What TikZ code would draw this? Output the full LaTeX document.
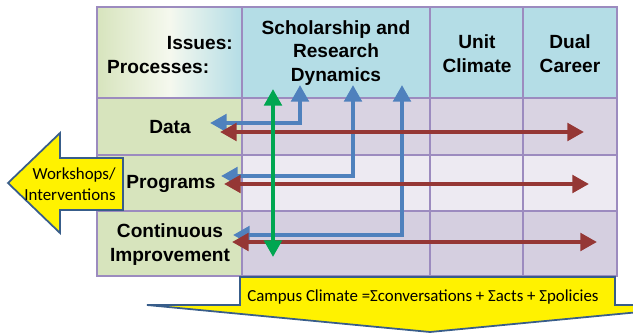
\documentclass[tikz,border=0pt]{standalone}
\usepackage{fontspec}
\setmainfont{Liberation Sans}
\newfontfamily\calibri{Carlito}
\usetikzlibrary{arrows.meta}
\definecolor{headblue}{HTML}{B4DDE6}
\definecolor{rowgreen}{HTML}{D7E4BD}
\definecolor{cellA}{HTML}{D9D3E2}
\definecolor{cellB}{HTML}{EDEAF2}
\definecolor{cellC}{HTML}{D5CFE0}
\definecolor{gridpurple}{HTML}{9C8BBF}
\definecolor{arrowred}{HTML}{953735}
\definecolor{arrowblue}{HTML}{4F81BD}
\definecolor{arrowgreen}{HTML}{00A651}
\definecolor{edgeblue}{HTML}{385D8A}

\begin{document}
\begin{tikzpicture}[x=0.03cm,y=-0.03cm,
  grid/.style={draw=gridpurple,line width=1.2pt},
  headtext/.style={font=\fontsize{16.3}{20.4}\selectfont\bfseries,align=center,inner sep=0pt},
  flow/.style={line width=3.6pt,{Triangle[length=0.5cm,width=0.52cm]}-{Triangle[length=0.5cm,width=0.52cm]}},
  bigarrow/.style={fill=yellow,draw=edgeblue,line width=1.5pt,line join=miter}]
  \clip (0,0) rectangle (633,335);

  % Tabelle: Zellen
  \shade[left color=rowgreen,right color=headblue,middle color=rowgreen!25!white] (97,7) rectangle (242,98);
  \fill[headblue] (242,7) rectangle (617,98);
  \fill[rowgreen] (97,98) rectangle (242,276);
  \fill[cellA] (242,98) rectangle (617,155);
  \fill[cellB] (242,155) rectangle (617,211);
  \fill[cellC] (242,211) rectangle (617,276);
  \draw[grid] (97,7) rectangle (617,276);
  \foreach \x in {242,430,523} \draw[grid] (\x,7) -- (\x,276);
  \foreach \y in {98,155,211} \draw[grid] (97,\y) -- (617,\y);

  % Kopfzeile und Zeilentitel
  \node[headtext,anchor=east] (issues) at (233,43) {Issues:};
  \node[headtext,anchor=west] (processes) at (107,67) {Processes:};
  \node[headtext] (scholar) at (336,53) {Scholarship and\\Research\\Dynamics};
  \node[headtext] (unit) at (477,54) {Unit\\Climate};
  \node[headtext] (dual) at (570,54) {Dual\\Career};
  \node[headtext] (data) at (170,127) {Data};
  \node[headtext] (programs) at (171,184) {Programs};
  \node[headtext] (contimp) at (170,245) {Continuous\\Improvement};

  % Endpunkte der Pfeile
  \coordinate (dataB) at (210,123);  \coordinate (dataK) at (300,123);  \coordinate (dataT) at (300,85);
  \coordinate (progB) at (221,176);  \coordinate (progK) at (353,176);  \coordinate (progT) at (353,85);
  \coordinate (contB) at (233,235);  \coordinate (contK) at (402,235);  \coordinate (contT) at (402,85);
  \coordinate (dataL) at (220,132);  \coordinate (dataR) at (584,132);
  \coordinate (progL) at (224,184);  \coordinate (progR) at (589,184);
  \coordinate (contL) at (232,242);  \coordinate (contR) at (597,242);
  \coordinate (greenT) at (273,89);  \coordinate (greenB) at (273,257);

  % blaue Winkelpfeile
  \draw[flow,arrowblue] (dataB) -- (dataK) -- (dataT);
  \draw[flow,arrowblue] (progB) -- (progK) -- (progT);
  \draw[flow,arrowblue] (contB) -- (contK) -- (contT);
  % rote Pfeile
  \draw[flow,arrowred] (dataL) -- (dataR);
  \draw[flow,arrowred] (progL) -- (progR);
  \draw[flow,arrowred] (contL) -- (contR);
  % gruener Pfeil
  \draw[flow,arrowgreen] (greenT) -- (greenB);

  % gelbe Blockpfeile
  \draw[bigarrow] (8,183) -- (60,133) -- (60,158) -- (123,158) -- (123,210) -- (60,210) -- (60,233) -- cycle;
  \node[font=\calibri\fontsize{14.4}{17.5}\selectfont,align=right,inner sep=0pt] (workshops) at (70,184) {Workshops/\\Interventions};
  \draw[bigarrow] (240,277) -- (615,277) -- (615,305) -- (713,305) -- (430,332) -- (147,305) -- (240,305) -- cycle;
  \node[font=\calibri\fontsize{14.4}{17}\selectfont,inner sep=0pt] (climate) at (423,297) {Campus Climate =Σconversations + Σacts + Σpolicies};
\end{tikzpicture}
\end{document}
